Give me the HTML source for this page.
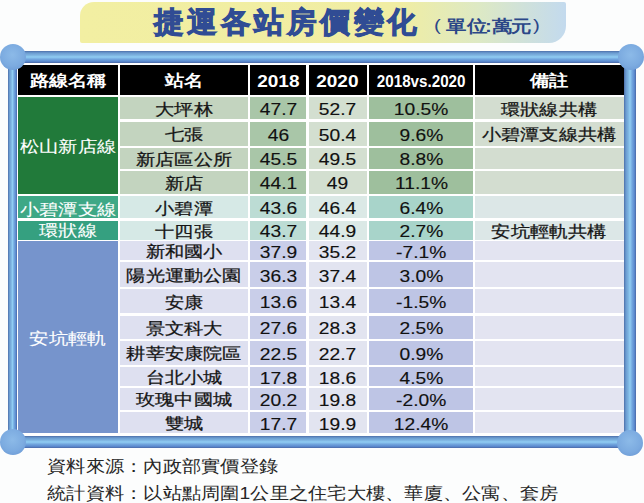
<!DOCTYPE html>
<html><head><meta charset="utf-8"><style>
html,body{margin:0;padding:0;}
body{width:644px;height:503px;position:relative;overflow:hidden;background:#fcfdfd;font-family:"Liberation Sans",sans-serif;}
.c{position:absolute;display:flex;align-items:center;justify-content:center;overflow:visible;}
.c span{display:inline-block;white-space:nowrap;}
.t{font-size:17px;color:#111;-webkit-text-stroke:0.15px #111;transform:translateY(1.5px) scaleX(1.13);}
.tc{font-size:16px;color:#151515;-webkit-text-stroke:0.25px #151515;transform:translateY(1.5px) scaleX(1.2);}
.hc{font-size:15.5px;color:#fff;font-weight:bold;transform:translateY(2px) scaleX(1.2);}
.hd{font-size:16.5px;color:#fff;font-weight:bold;transform:translateY(2px) scaleX(1.15);}
.hv{font-size:16.5px;color:#fff;font-weight:bold;transform:translateY(2px) scaleX(0.92);}
.w1,.w2,.w3,.w4{font-size:16px;color:#fff;-webkit-text-stroke:0.1px #fff;transform:translateY(1.5px) scaleX(1.21);}
.w2{transform:translateY(2.5px) scaleX(1.21);}
.w3{transform:translateY(0.5px) scaleX(1.21);}
#banner{position:absolute;left:80px;top:1.5px;width:486px;height:41.3px;border-radius:14px 2px 17px 2px;background:linear-gradient(to right,#f2efa2 0%,#f0eda3 66%,#dde9c4 82%,#c3daee 100%);}
#title{position:absolute;left:154px;top:2px;font-size:29px;font-weight:900;color:#3b5cad;-webkit-text-stroke:1px #304c94;white-space:nowrap;letter-spacing:3.6px;transform:scaleX(1.02);transform-origin:0 0;line-height:40px}
#unit i{font-style:normal;font-weight:normal;font-size:17px;position:relative;top:-1.5px}
#unit span{position:absolute;top:14px;transform:scaleX(1.2);transform-origin:0 0;font-size:17px;font-weight:bold;color:#2b4788;line-height:26px;white-space:nowrap}
.bar{position:absolute;background:linear-gradient(to bottom,#4d6fa9 0%,#6a9bd0 16%,#7db3e0 35%,#90cdf3 50%,#72a6de 68%,#5b8bd0 86%,#4a68a5 100%);}
.vbar{position:absolute;background:linear-gradient(to right,#4d6fa9 0%,#6a9bd0 16%,#7db3e0 35%,#90cdf3 50%,#72a6de 68%,#5b8bd0 86%,#4a68a5 100%);}
.ball{position:absolute;width:26px;height:26px;border-radius:50%;background:radial-gradient(circle at 48% 42%,#8cbae8 0%,#7cabe0 55%,#6d9bd6 85%,#5b88c4 100%);}
.foot{position:absolute;left:47px;font-size:17px;color:#262626;white-space:nowrap;transform:scaleX(1.133);transform-origin:0 0;}
</style></head><body>
<div id="banner"></div>
<div id="title">捷運各站房價變化</div>
<div id="unit"><span style="left:434px"><i>(</i></span><span style="left:446px">單</span><span style="left:466.5px">位</span><span style="left:485px">:</span><span style="left:491.5px">萬</span><span style="left:511px">元</span><span style="left:533px"><i>)</i></span></div>
<div style="position:absolute;left:16.5px;top:62px;width:607.5px;height:374px;background:#fff"></div>
<div class="c" style="left:18px;top:64.8px;width:100.2px;height:30.0px;background:#000"><span class="hc">路線名稱</span></div>
<div class="c" style="left:120.4px;top:64.8px;width:127.6px;height:30.0px;background:#000"><span class="hc">站名</span></div>
<div class="c" style="left:250.4px;top:64.8px;width:55.7px;height:30.0px;background:#000"><span class="hd">2018</span></div>
<div class="c" style="left:308.6px;top:64.8px;width:58.3px;height:30.0px;background:#000"><span class="hd">2020</span></div>
<div class="c" style="left:369.4px;top:64.8px;width:103.2px;height:30.0px;background:#000"><span class="hv">2018vs.2020</span></div>
<div class="c" style="left:475.1px;top:64.8px;width:148.5px;height:30.0px;background:#000"><span class="hc">備註</span></div>
<div class="c" style="left:18px;top:96.9px;width:100.2px;height:96.7px;background:#217a3a"><span class="w1">松山新店線</span></div>
<div class="c" style="left:18px;top:196px;width:100.2px;height:22.3px;background:#3ea886"><span class="w2">小碧潭支線</span></div>
<div class="c" style="left:18px;top:220.6px;width:100.2px;height:19.1px;background:#35a080"><span class="w3">環狀線</span></div>
<div class="c" style="left:18px;top:241.3px;width:100.2px;height:192.2px;background:#7694cc"><span class="w4">安坑輕軌</span></div>
<div class="c" style="left:120.4px;top:96.9px;width:127.6px;height:22.5px;background:#c3d4bf"><span class="tc">大坪林</span></div>
<div class="c" style="left:250.4px;top:96.9px;width:55.7px;height:22.5px;background:#a9c6a8"><span class="t">47.7</span></div>
<div class="c" style="left:308.6px;top:96.9px;width:58.3px;height:22.5px;background:#d3dfd0"><span class="t">52.7</span></div>
<div class="c" style="left:369.4px;top:96.9px;width:103.2px;height:22.5px;background:#9ebf9d"><span class="t">10.5%</span></div>
<div class="c" style="left:475.1px;top:96.9px;width:148.5px;height:22.5px;background:#d3ddd0"><span class="tc">環狀線共構</span></div>
<div class="c" style="left:120.4px;top:121.5px;width:127.6px;height:24.1px;background:#c3d4bf"><span class="tc">七張</span></div>
<div class="c" style="left:250.4px;top:121.5px;width:55.7px;height:24.1px;background:#a9c6a8"><span class="t">46</span></div>
<div class="c" style="left:308.6px;top:121.5px;width:58.3px;height:24.1px;background:#d3dfd0"><span class="t">50.4</span></div>
<div class="c" style="left:369.4px;top:121.5px;width:103.2px;height:24.1px;background:#9ebf9d"><span class="t">9.6%</span></div>
<div class="c" style="left:475.1px;top:121.5px;width:148.5px;height:24.1px;background:#d3ddd0"><span class="tc">小碧潭支線共構</span></div>
<div class="c" style="left:120.4px;top:147.5px;width:127.6px;height:21.0px;background:#c3d4bf"><span class="tc">新店區公所</span></div>
<div class="c" style="left:250.4px;top:147.5px;width:55.7px;height:21.0px;background:#a9c6a8"><span class="t">45.5</span></div>
<div class="c" style="left:308.6px;top:147.5px;width:58.3px;height:21.0px;background:#d3dfd0"><span class="t">49.5</span></div>
<div class="c" style="left:369.4px;top:147.5px;width:103.2px;height:21.0px;background:#9ebf9d"><span class="t">8.8%</span></div>
<div class="c" style="left:475.1px;top:147.5px;width:148.5px;height:21.0px;background:#d3ddd0"></div>
<div class="c" style="left:120.4px;top:171px;width:127.6px;height:22.6px;background:#c3d4bf"><span class="tc">新店</span></div>
<div class="c" style="left:250.4px;top:171px;width:55.7px;height:22.6px;background:#a9c6a8"><span class="t">44.1</span></div>
<div class="c" style="left:308.6px;top:171px;width:58.3px;height:22.6px;background:#d3dfd0"><span class="t">49</span></div>
<div class="c" style="left:369.4px;top:171px;width:103.2px;height:22.6px;background:#9ebf9d"><span class="t">11.1%</span></div>
<div class="c" style="left:475.1px;top:171px;width:148.5px;height:22.6px;background:#d3ddd0"></div>
<div class="c" style="left:120.4px;top:196px;width:127.6px;height:22.3px;background:#d6e9e6"><span class="tc">小碧潭</span></div>
<div class="c" style="left:250.4px;top:196px;width:55.7px;height:22.3px;background:#bcdcd4"><span class="t">43.6</span></div>
<div class="c" style="left:308.6px;top:196px;width:58.3px;height:22.3px;background:#dbe9e6"><span class="t">46.4</span></div>
<div class="c" style="left:369.4px;top:196px;width:103.2px;height:22.3px;background:#a8d4ca"><span class="t">6.4%</span></div>
<div class="c" style="left:475.1px;top:196px;width:148.5px;height:22.3px;background:#dce7e7"></div>
<div class="c" style="left:120.4px;top:220.6px;width:127.6px;height:19.1px;background:#d6e9e6"><span class="tc">十四張</span></div>
<div class="c" style="left:250.4px;top:220.6px;width:55.7px;height:19.1px;background:#bcdcd4"><span class="t">43.7</span></div>
<div class="c" style="left:308.6px;top:220.6px;width:58.3px;height:19.1px;background:#dbe9e6"><span class="t">44.9</span></div>
<div class="c" style="left:369.4px;top:220.6px;width:103.2px;height:19.1px;background:#a8d4ca"><span class="t">2.7%</span></div>
<div class="c" style="left:475.1px;top:220.6px;width:148.5px;height:19.1px;background:#dce7e7"><span class="tc">安坑輕軌共構</span></div>
<div class="c" style="left:120.4px;top:241.3px;width:127.6px;height:18.7px;background:#dee0f0"><span class="tc">新和國小</span></div>
<div class="c" style="left:250.4px;top:241.3px;width:55.7px;height:18.7px;background:#c9cee9"><span class="t">37.9</span></div>
<div class="c" style="left:308.6px;top:241.3px;width:58.3px;height:18.7px;background:#e2e4f0"><span class="t">35.2</span></div>
<div class="c" style="left:369.4px;top:241.3px;width:103.2px;height:18.7px;background:#bec5e5"><span class="t">-7.1%</span></div>
<div class="c" style="left:475.1px;top:241.3px;width:148.5px;height:18.7px;background:#e3e4f1"></div>
<div class="c" style="left:120.4px;top:262px;width:127.6px;height:25.0px;background:#dee0f0"><span class="tc">陽光運動公園</span></div>
<div class="c" style="left:250.4px;top:262px;width:55.7px;height:25.0px;background:#c9cee9"><span class="t">36.3</span></div>
<div class="c" style="left:308.6px;top:262px;width:58.3px;height:25.0px;background:#e2e4f0"><span class="t">37.4</span></div>
<div class="c" style="left:369.4px;top:262px;width:103.2px;height:25.0px;background:#bec5e5"><span class="t">3.0%</span></div>
<div class="c" style="left:475.1px;top:262px;width:148.5px;height:25.0px;background:#e3e4f1"></div>
<div class="c" style="left:120.4px;top:289.3px;width:127.6px;height:23.9px;background:#dee0f0"><span class="tc">安康</span></div>
<div class="c" style="left:250.4px;top:289.3px;width:55.7px;height:23.9px;background:#c9cee9"><span class="t">13.6</span></div>
<div class="c" style="left:308.6px;top:289.3px;width:58.3px;height:23.9px;background:#e2e4f0"><span class="t">13.4</span></div>
<div class="c" style="left:369.4px;top:289.3px;width:103.2px;height:23.9px;background:#bec5e5"><span class="t">-1.5%</span></div>
<div class="c" style="left:475.1px;top:289.3px;width:148.5px;height:23.9px;background:#e3e4f1"></div>
<div class="c" style="left:120.4px;top:315.6px;width:127.6px;height:23.0px;background:#dee0f0"><span class="tc">景文科大</span></div>
<div class="c" style="left:250.4px;top:315.6px;width:55.7px;height:23.0px;background:#c9cee9"><span class="t">27.6</span></div>
<div class="c" style="left:308.6px;top:315.6px;width:58.3px;height:23.0px;background:#e2e4f0"><span class="t">28.3</span></div>
<div class="c" style="left:369.4px;top:315.6px;width:103.2px;height:23.0px;background:#bec5e5"><span class="t">2.5%</span></div>
<div class="c" style="left:475.1px;top:315.6px;width:148.5px;height:23.0px;background:#e3e4f1"></div>
<div class="c" style="left:120.4px;top:341px;width:127.6px;height:23.8px;background:#dee0f0"><span class="tc">耕莘安康院區</span></div>
<div class="c" style="left:250.4px;top:341px;width:55.7px;height:23.8px;background:#c9cee9"><span class="t">22.5</span></div>
<div class="c" style="left:308.6px;top:341px;width:58.3px;height:23.8px;background:#e2e4f0"><span class="t">22.7</span></div>
<div class="c" style="left:369.4px;top:341px;width:103.2px;height:23.8px;background:#bec5e5"><span class="t">0.9%</span></div>
<div class="c" style="left:475.1px;top:341px;width:148.5px;height:23.8px;background:#e3e4f1"></div>
<div class="c" style="left:120.4px;top:367.2px;width:127.6px;height:18.8px;background:#dee0f0"><span class="tc">台北小城</span></div>
<div class="c" style="left:250.4px;top:367.2px;width:55.7px;height:18.8px;background:#c9cee9"><span class="t">17.8</span></div>
<div class="c" style="left:308.6px;top:367.2px;width:58.3px;height:18.8px;background:#e2e4f0"><span class="t">18.6</span></div>
<div class="c" style="left:369.4px;top:367.2px;width:103.2px;height:18.8px;background:#bec5e5"><span class="t">4.5%</span></div>
<div class="c" style="left:475.1px;top:367.2px;width:148.5px;height:18.8px;background:#e3e4f1"></div>
<div class="c" style="left:120.4px;top:387.7px;width:127.6px;height:22.3px;background:#dee0f0"><span class="tc">玫瑰中國城</span></div>
<div class="c" style="left:250.4px;top:387.7px;width:55.7px;height:22.3px;background:#c9cee9"><span class="t">20.2</span></div>
<div class="c" style="left:308.6px;top:387.7px;width:58.3px;height:22.3px;background:#e2e4f0"><span class="t">19.8</span></div>
<div class="c" style="left:369.4px;top:387.7px;width:103.2px;height:22.3px;background:#bec5e5"><span class="t">-2.0%</span></div>
<div class="c" style="left:475.1px;top:387.7px;width:148.5px;height:22.3px;background:#e3e4f1"></div>
<div class="c" style="left:120.4px;top:412.4px;width:127.6px;height:21.1px;background:#dee0f0"><span class="tc">雙城</span></div>
<div class="c" style="left:250.4px;top:412.4px;width:55.7px;height:21.1px;background:#c9cee9"><span class="t">17.7</span></div>
<div class="c" style="left:308.6px;top:412.4px;width:58.3px;height:21.1px;background:#e2e4f0"><span class="t">19.9</span></div>
<div class="c" style="left:369.4px;top:412.4px;width:103.2px;height:21.1px;background:#bec5e5"><span class="t">12.4%</span></div>
<div class="c" style="left:475.1px;top:412.4px;width:148.5px;height:21.1px;background:#e3e4f1"></div>
<div class="bar" style="left:13px;top:51px;width:618px;height:11.5px"></div>
<div class="bar" style="left:13px;top:436px;width:618px;height:11.5px"></div>
<div class="vbar" style="left:8px;top:57px;width:8.5px;height:385px"></div>
<div class="vbar" style="left:624px;top:57px;width:12px;height:385px"></div>
<div class="ball" style="left:0px;top:44px"></div>
<div class="ball" style="left:618px;top:44px"></div>
<div class="ball" style="left:0px;top:429px"></div>
<div class="ball" style="left:617px;top:430px"></div>
<div class="foot" style="top:455px">資料來源：內政部實價登錄</div>
<div class="foot" style="top:482px">統計資料：以站點周圍1公里之住宅大樓、華廈、公寓、套房</div>
</body></html>
